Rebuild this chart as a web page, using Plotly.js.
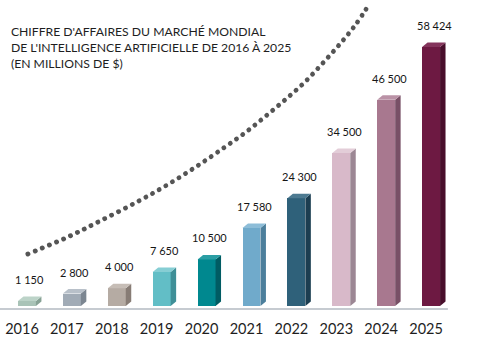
<!DOCTYPE html>
<html>
<head>
<meta charset="utf-8">
<script src="https://cdn.plot.ly/plotly-3.0.1.min.js"></script>
<style>
html,body{margin:0;padding:0;background:#fff;}
#chart{width:496px;height:346px;}
</style>
</head>
<body>
<div id="chart"></div>
<script>
// ---- data ----
const years = [2016, 2017, 2018, 2019, 2020, 2021, 2022, 2023, 2024, 2025];
const yearLabels = ['2016', '2017', '2018', '2019', '2020', '2021', '2022', '2023', '2024', '2025'];
const revenue = [1150, 2800, 4000, 7650, 10500, 17580, 24300, 34500, 46500, 58424];
const revenueLabels = ['1 150', '2 800', '4 000', '7 650', '10 500', '17 580', '24 300', '34 500', '46 500', '58 424'];
// decorative dotted growth curve
const trendX = [2016.02, 2016.91, 2017.63, 2018.45, 2019.12, 2019.79, 2020.41, 2020.88, 2021.32, 2021.77, 2022.19, 2022.59, 2022.97, 2023.33, 2023.64];
const trendY = [11730, 15565, 19174, 23460, 27295, 31581, 35867, 39251, 42860, 46695, 50530, 54816, 59103, 63614, 68351];

// ---- styles ----
const faceColors = ['#a9c3b7', '#a1abb6', '#b5aba3', '#62bec6', '#00888f', '#70aacb', '#2f617a', '#d8b9c9', '#a8788f', '#6d1942'];
const sideColors = ['#87a295', '#7c8691', '#877c75', '#3f8f97', '#005c63', '#4c7f9c', '#1c3e51', '#9c8794', '#785066', '#480e2b'];
const topColors  = ['#bcd3c8', '#b8c0c9', '#c6bdb6', '#86ced4', '#2a9ea4', '#8dbdd8', '#4d7a91', '#e3cdd8', '#ba92a6', '#84345c'];

const BAR_W = 0.40;     // face width in x units
const DEPTH_X = 0.122;  // 3D depth in x units
const DEPTH_Y = 1015;   // 3D depth in y units

const traces = [];
traces.push({
  type: 'bar', x: years, y: revenue, width: BAR_W,
  marker: {color: faceColors, line: {width: 0}},
  hoverinfo: 'skip', showlegend: false
});
years.forEach((yr, i) => {
  const xl = yr - BAR_W / 2, xr = yr + BAR_W / 2, v = revenue[i];
  // side face
  traces.push({
    type: 'scatter', mode: 'lines', fill: 'toself',
    x: [xr, xr + DEPTH_X, xr + DEPTH_X, xr, xr],
    y: [0, DEPTH_Y, v + DEPTH_Y, v, 0],
    fillcolor: sideColors[i], line: {width: 0, color: sideColors[i]},
    hoverinfo: 'skip', showlegend: false
  });
  // top face
  traces.push({
    type: 'scatter', mode: 'lines', fill: 'toself',
    x: [xl, xr, xr + DEPTH_X, xl + DEPTH_X, xl],
    y: [v, v, v + DEPTH_Y, v + DEPTH_Y, v],
    fillcolor: topColors[i], line: {width: 0, color: topColors[i]},
    hoverinfo: 'skip', showlegend: false
  });
});
traces.push({
  type: 'scatter', mode: 'lines', x: trendX, y: trendY,
  line: {shape: 'spline', color: '#555555', width: 4.8, dash: '0.1px,7.6px'},
  hoverinfo: 'skip', showlegend: false
});

const annotations = years.map((yr, i) => ({
  x: yr, y: revenue[i], text: revenueLabels[i], showarrow: false,
  xanchor: 'center', yanchor: 'bottom', xshift: 3, yshift: 13,
  font: {family: 'Lato, "Open Sans", sans-serif', size: 11, color: '#151515'}
}));

const layout = {
  width: 496, height: 346,
  margin: {l: 0, r: 0, t: 0, b: 40, pad: 0},
  paper_bgcolor: '#ffffff', plot_bgcolor: '#ffffff',
  title: {
    text: "CHIFFRE D'AFFAIRES DU MARCHÉ MONDIAL<br>DE L'INTELLIGENCE ARTIFICIELLE DE 2016 À 2025<br>(EN MILLIONS DE $)",
    x: 0.022, xanchor: 'left', xref: 'paper',
    y: 0.895, yanchor: 'top', yref: 'container',
    font: {family: 'Lato, "Open Sans", sans-serif', size: 12.2, color: '#1e1e1e'}
  },
  xaxis: {
    range: [2015.399, 2026.446], fixedrange: true,
    tickvals: years, ticktext: yearLabels,
    showgrid: false, zeroline: false, showline: false, ticks: '',
    ticklabelshift: -5, ticklabelstandoff: 12,
    tickfont: {family: 'Lato, "Open Sans", sans-serif', size: 14.5, color: '#1e1e1e'}
  },
  yaxis: {
    range: [0, 69027], fixedrange: true, visible: false,
    showgrid: false, zeroline: false
  },
  bargap: 0,
  shapes: [{
    type: 'line', xref: 'paper', yref: 'paper',
    x0: 0, x1: 0.903, y0: -0.0098, y1: -0.0098,
    line: {color: '#c6cbd1', width: 2}, layer: 'below'
  }],
  annotations: annotations,
  showlegend: false
};

Plotly.newPlot('chart', traces, layout, {staticPlot: true, displayModeBar: false}).then(gd => {
  gd.querySelectorAll('.scatterlayer .trace .js-line').forEach(p => {
    if ((p.style.strokeDasharray || '').indexOf('0.1') === 0) p.style.strokeLinecap = 'round';
  });
});
</script>
</body>
</html>
